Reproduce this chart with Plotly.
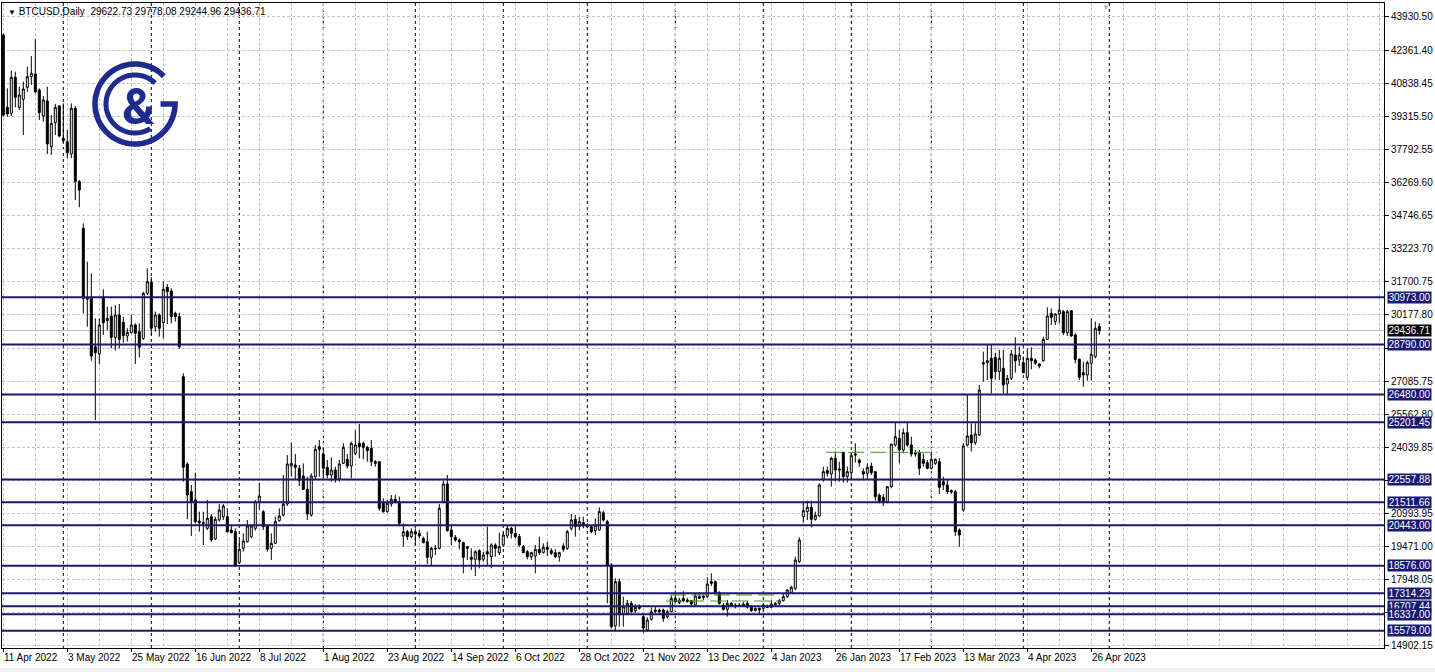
import numpy as np
import plotly.graph_objects as go

# ---------------- data ----------------
opens = [
    43083, 39744, 39467, 41129, 39744, 40113, 40667, 41160, 41283, 40544,
    39344, 40036, 37928, 39036, 39805, 38313, 38158, 37589, 39698, 36312,
    34157, 30880, 30925, 28694, 28355, 30971, 29894, 30110, 29124, 30156,
    29817, 29186, 29340, 29694, 29386, 29078, 31156, 31664, 29617, 30156,
    29802, 31433, 31264, 30233, 30079, 27308, 23277, 21999, 21614, 20645,
    20568, 20306, 20845, 19814, 20691, 20845, 20845, 20229, 20152, 18721,
    19383, 19691, 19921, 20306, 21537, 21075, 20414, 19383, 19614, 20660,
    20922, 21429, 23184, 23230, 23076, 22722, 22107, 20922, 22691, 24077,
    23738, 23122, 22768, 23000, 22600, 23307, 23492, 23184, 23769, 24231,
    24231, 24046, 24000, 23384, 23384, 21460, 21075, 21429, 21645, 21537,
    19952, 20152, 19921, 20152, 20075, 19844, 19691, 18967, 19352, 19383,
    21537, 22353, 20229, 19890, 19767, 19644, 19460, 18967, 18875, 19275,
    18875, 19229, 18998, 19537, 19183, 19537, 19952, 20306, 20075, 19921,
    19460, 19229, 18998, 19029, 19337, 19183, 19429, 19275, 19183, 18998,
    19490, 19383, 20306, 20722, 20383, 20568, 20383, 20383, 20198, 20229,
    21029, 20613, 18613, 15800, 17843, 16381, 16381, 16843, 16504, 16689,
    16227, 15612, 16104, 16458, 16535, 16535, 16227, 16458, 17073, 16874,
    17073, 16997, 16966, 16766, 17150, 17181, 17150, 17843, 17843, 17335,
    16766, 16566, 16843, 16689, 16766, 16720, 16843, 16689, 16504, 16612,
    16612, 16720, 16658, 16766, 16843, 16966, 17150, 17335, 17535, 18767,
    20845, 21076, 21276, 20722, 20876, 22568, 22969, 22815, 23538, 23046,
    23815, 22692, 22876, 23738, 23461, 22923, 22846, 23184, 22923, 21845,
    21737, 21538, 22230, 24154, 24462, 23923, 24723, 24154, 23800, 23800,
    23492, 23338, 23077, 23307, 23384, 22461, 22307, 22045, 22000, 20229,
    21153, 24154, 24615, 24261, 24615, 27955, 27955, 28155, 28201, 27540,
    27693, 26970, 27232, 28309, 28078, 27955, 27278, 28155, 28078, 27893,
    28047, 29032, 30233, 29848, 30202, 30310, 29340, 30356, 29232, 28109,
    27493, 27386, 27924, 28232, 29622.73,
]
highs = [
    43160, 40621, 41437, 41391, 40698, 40929, 41621, 42114, 42883, 40621,
    40267, 40698, 39390, 39898, 39851, 39929, 38697, 39929, 39805, 36389,
    34388, 32618, 32079, 30002, 30002, 31341, 30540, 30540, 30617, 30664,
    30079, 29540, 30156, 29771, 29771, 31233, 32310, 31895, 30310, 30233,
    31694, 31587, 31387, 30310, 30263, 27462, 23350, 22307, 22876, 21075,
    21075, 21614, 20968, 20845, 21429, 21429, 21230, 20460, 20306, 19767,
    20075, 20691, 20460, 21614, 22414, 21153, 20460, 20075, 20845, 21230,
    22768, 23692, 24261, 23738, 23230, 23307, 22691, 22845, 24154, 24384,
    24046, 23461, 23584, 23153, 23461, 24231, 23738, 24307, 24846, 25123,
    24307, 24107, 24384, 23461, 23384, 21691, 21614, 21845, 21845, 21768,
    20537, 20229, 20306, 20306, 20229, 19921, 20152, 19460, 19537, 21429,
    22507, 22768, 20414, 19998, 19844, 19691, 19491, 19383, 19306, 19337,
    19229, 20383, 19614, 19614, 20106, 20152, 20460, 20383, 20460, 20044,
    19537, 19306, 19229, 19537, 19921, 19614, 19691, 19383, 19337, 19229,
    19614, 20229, 20968, 20922, 20845, 20845, 20537, 20460, 20768, 21276,
    21122, 20700, 18700, 18000, 17997, 17150, 17000, 16950, 16800, 16800,
    16400, 16200, 16650, 16700, 16600, 16600, 16550, 17200, 17250, 17100,
    17400, 17100, 17000, 17300, 17350, 17250, 18043, 18230, 17900, 17400,
    16850, 17000, 16900, 16850, 16850, 16900, 16950, 16750, 16650, 16650,
    16800, 16780, 16990, 16900, 17050, 17300, 17500, 17650, 19000, 19890,
    21538, 21584, 21584, 21076, 22384, 23153, 23153, 23615, 23846, 23384,
    23815, 23153, 23769, 24231, 23538, 23077, 23307, 23338, 22923, 21922,
    21891, 22261, 24200, 25185, 24846, 24923, 25231, 24539, 23923, 23923,
    23769, 23461, 23846, 23538, 23538, 22692, 22538, 22100, 22076, 20306,
    24231, 26462, 25154, 25154, 26924, 28463, 28771, 28817, 28417, 28540,
    28540, 27386, 28540, 29125, 28694, 28232, 28617, 28663, 28155, 27924,
    29155, 30510, 30464, 30233, 31002, 30387, 30387, 30387, 29309, 28155,
    28001, 28047, 30002, 29848, 29778.08,
]
lows = [
    39313, 39313, 39344, 39744, 39621, 38466, 40467, 40775, 40390, 39159,
    39082, 37589, 37543, 38466, 38359, 38112, 37389, 37389, 35465, 35127,
    30233, 29617, 28047, 25300, 27893, 29232, 29463, 28617, 28509, 28617,
    28878, 28925, 29309, 27893, 28201, 29002, 31079, 29232, 29386, 29155,
    29078, 29740, 29771, 29848, 28600, 22461, 20722, 19952, 20537, 20152,
    19537, 20229, 19691, 19767, 20614, 20691, 20106, 20075, 18536, 18659,
    19229, 19644, 19844, 20198, 21153, 20229, 19229, 18844, 19583, 20614,
    20845, 21337, 22691, 22538, 22260, 22076, 20691, 20845, 22568, 22691,
    22615, 22615, 22461, 22414, 22461, 23277, 23076, 22615, 23692, 23538,
    23492, 23384, 23184, 23153, 21122, 21029, 21029, 21306, 21460, 20460,
    19460, 19767, 19844, 19537, 19844, 19614, 18659, 18613, 19075, 19337,
    21460, 20152, 19537, 19691, 19337, 18228, 18844, 18382, 18105, 18459,
    18767, 18613, 18459, 18998, 19075, 19460, 19844, 19844, 19844, 19460,
    19152, 18875, 18844, 18228, 19075, 19152, 19029, 19075, 18921, 18767,
    19229, 19306, 20198, 19921, 20229, 20306, 20306, 20075, 19998, 20198,
    20614, 16843, 15688, 15600, 15765, 15765, 16300, 16381, 16400, 16550,
    15480, 15534, 16050, 16400, 16350, 15990, 16150, 16420, 16850, 16800,
    16900, 16880, 16700, 16730, 17050, 17000, 17100, 17650, 17250, 16780,
    16500, 16227, 16700, 16600, 16680, 16700, 16600, 16450, 16470, 16330,
    16550, 16620, 16630, 16720, 16700, 16930, 17100, 17300, 17450, 18700,
    20568, 20691, 20352, 20660, 20845, 22461, 22692, 22230, 22461, 22461,
    22415, 22415, 22538, 23338, 23153, 22538, 22568, 22769, 21584, 21460,
    21337, 21460, 22153, 24077, 23307, 23769, 24077, 23615, 23615, 22769,
    23153, 23030, 23030, 23230, 21891, 22076, 21891, 21900, 19952, 19460,
    21076, 24077, 23846, 24154, 24569, 27078, 27155, 26539, 27186, 27155,
    26539, 26508, 27155, 27493, 27801, 27463, 27155, 27647, 27847, 27693,
    28001, 29002, 29694, 29694, 29771, 29232, 29186, 29155, 27924, 27155,
    26847, 27124, 27124, 28155, 29244.96,
]
closes = [
    39390, 39436, 41129, 40206, 40313, 40590, 41160, 41314, 40467, 39498,
    40082, 38051, 39005, 39744, 38420, 38205, 37651, 39698, 36312, 35927,
    30925, 30950, 28263, 28417, 29694, 29802, 30002, 29124, 30156, 29032,
    29201, 29355, 29694, 29309, 28663, 31156, 31694, 29540, 30156, 29540,
    31341, 31233, 30079, 30079, 28694, 23122, 21845, 21491, 20614, 20568,
    20537, 20768, 19767, 20722, 21153, 21337, 20152, 20106, 18567, 19337,
    19721, 20414, 20414, 21537, 21799, 20383, 19337, 19614, 20614, 20875,
    21429, 23277, 23307, 23122, 22507, 22107, 20968, 22722, 23953, 23953,
    23076, 22768, 23000, 22600, 23277, 24046, 23184, 24231, 24154, 24077,
    24046, 23892, 23384, 23307, 21230, 21075, 21460, 21645, 21537, 20537,
    20152, 19921, 20152, 20044, 19952, 19644, 18967, 19383, 19383, 21230,
    22353, 20198, 19921, 19767, 19691, 18967, 19383, 18875, 19229, 18844,
    19075, 19121, 19537, 19383, 19460, 19998, 20306, 20075, 19921, 19537,
    19183, 18998, 19183, 19337, 19183, 19429, 19337, 19152, 18998, 19183,
    19337, 20152, 20691, 20383, 20614, 20414, 20460, 20152, 20460, 21075,
    20691, 18613, 15765, 17843, 16381, 16689, 16843, 16458, 16658, 16612,
    15700, 16073, 16458, 16535, 16458, 16150, 16458, 17073, 16920, 16997,
    16966, 16920, 16812, 17181, 17073, 17120, 17735, 17766, 17335, 16843,
    16566, 16843, 16720, 16766, 16720, 16812, 16658, 16504, 16612, 16535,
    16766, 16658, 16812, 16843, 16966, 17150, 17458, 17581, 18843, 19767,
    21122, 21276, 20722, 20906, 22307, 22923, 22846, 23538, 23000, 23000,
    22692, 22923, 23661, 23692, 23338, 22815, 23123, 22876, 21768, 21538,
    21491, 22230, 24200, 24539, 23923, 24723, 24154, 23738, 23738, 23077,
    23307, 23077, 23492, 23492, 22199, 22307, 22000, 21984, 20152, 19998,
    24107, 24569, 24261, 24662, 26693, 27893, 28047, 27232, 27540, 28155,
    26924, 27232, 28355, 28047, 28309, 27493, 28155, 28047, 27924, 27801,
    29032, 30110, 30048, 30202, 30387, 29340, 30310, 29186, 28109, 27278,
    27386, 27955, 28340, 29540, 29436.71,
]

# price grid; the three hidden values sit under the level labels in the reference
price_ticks = [43930.50, 42361.40, 40838.45, 39315.50, 37792.55, 36269.60,
               34746.65, 33223.70, 31700.75, 30177.80, 28631.75, 27085.75,
               25562.80, 24039.85, 22516.90, 20993.95, 19471.00, 17948.05,
               16425.10, 14902.15]
hidden_ticks = [28631.75, 22516.90, 16425.10]
levels = [30973.00, 28790.00, 26480.00, 25201.45, 22557.88, 21511.66,
          20443.00, 18576.00, 17314.29, 16707.44, 16337.00, 15579.00]
current_price = 29436.71

date_labels = ["11 Apr 2022", "3 May 2022", "25 May 2022", "16 Jun 2022",
               "8 Jul 2022", "1 Aug 2022", "23 Aug 2022", "14 Sep 2022",
               "6 Oct 2022", "28 Oct 2022", "21 Nov 2022", "13 Dec 2022",
               "4 Jan 2023", "26 Jan 2023", "17 Feb 2023", "13 Mar 2023",
               "4 Apr 2023", "26 Apr 2023"]
date_label_bars = [16 * k for k in range(len(date_labels))]
month_start_bars = [15, 37, 59, 80, 103, 125, 146, 168, 190, 212, 232, 255, 276.5]

green_prices = [23816, 17228, 16951]
green_start = [205.7, 166.7, 165.7]
green_end = [233.5, 194.2, 194.2]

title_text = "BTCUSD,Daily  29622.73 29778.08 29244.96 29436.71"

# ---------------- styling ----------------
NAVY = "#191970"
LOGO = "#1f2b91"
GRID = "#c4c4c4"
FONT = "Liberation Sans"
W, H = 1435, 672
ML, MR, MT, MB = 2, 51, 3, 24
PW, PH = W - ML - MR, H - MT - MB

bars = list(range(len(opens)))

fig = go.Figure()
fig.add_trace(go.Candlestick(
    x=bars, open=opens, high=highs, low=lows, close=closes,
    increasing=dict(line=dict(color="black", width=1), fillcolor="white"),
    decreasing=dict(line=dict(color="black", width=1), fillcolor="black"),
    whiskerwidth=0, hoverinfo="skip", showlegend=False,
))

shapes = []
for b in month_start_bars:
    shapes.append(dict(type="line", xref="x", yref="paper", x0=b, x1=b, y0=0, y1=1,
                       line=dict(color="black", width=1, dash="3px,3px"), layer="between"))
shapes.append(dict(type="line", xref="paper", yref="y", x0=0, x1=1,
                   y0=current_price, y1=current_price,
                   line=dict(color="#b8b8b8", width=1), layer="between"))
for p, a, b in zip(green_prices, green_start, green_end):
    shapes.append(dict(type="line", xref="x", yref="y", x0=a, x1=b, y0=p, y1=p,
                       line=dict(color="#3c9a1c", width=1, dash="16px,6px"), layer="above"))
for lv in levels:
    shapes.append(dict(type="line", xref="paper", yref="y", x0=0, x1=1, y0=lv, y1=lv,
                       line=dict(color=NAVY, width=2), layer="above"))

def arc_path(r, a0, a1, extra=None, n=90):
    t = np.radians(np.linspace(a0, a1, n))
    pts = [(r * np.cos(a), r * np.sin(a)) for a in t]
    if extra:
        pts += extra
    return "M " + " L ".join(f"{x:.2f},{y:.2f}" for x, y in pts)

cx_px, cy_px = 135.0, 104.0
ax_paper = (cx_px - ML) / PW
ay_paper = 1 - (cy_px - MT) / PH
for path, lw in [(arc_path(40, 44, 360, extra=[(25.5, 0.0)]), 5.6),
                 (arc_path(29, 46, 302), 5.0)]:
    shapes.append(dict(type="path", path=path, xref="paper", yref="paper",
                       xsizemode="pixel", ysizemode="pixel",
                       xanchor=ax_paper, yanchor=ay_paper,
                       line=dict(color=LOGO, width=lw), fillcolor="rgba(0,0,0,0)",
                       layer="above"))
shapes.append(dict(type="rect", xref="paper", yref="paper", x0=-0.01, x1=1.05,
                   y0=-(668 - MT - PH) / PH, y1=-(H - MT - PH) / PH - 0.01,
                   fillcolor="#f0f0f0", line=dict(width=0), layer="below"))

annotations = []
for lv in levels:
    annotations.append(dict(xref="paper", yref="y", x=1, y=lv, xanchor="left",
                            yanchor="middle", xshift=3, text=f"{lv:.2f}",
                            showarrow=False, bgcolor=NAVY, borderpad=0,
                            width=43, height=11,
                            font=dict(family=FONT, size=10, color="white")))
annotations.append(dict(xref="paper", yref="y", x=1, y=current_price, xanchor="left",
                        yanchor="middle", xshift=3, text=f"{current_price:.2f}",
                        showarrow=False, bgcolor="black", borderpad=0, width=43, height=11,
                        font=dict(family=FONT, size=10, color="white")))
for b, lab in zip(date_label_bars, date_labels):
    annotations.append(dict(xref="x", yref="paper", x=b, y=0, xanchor="left",
                            yanchor="top", xshift=-1, yshift=-2, text=lab,
                            showarrow=False, font=dict(family=FONT, size=10, color="black")))
annotations.append(dict(xref="paper", yref="paper", x=0, y=1, xanchor="left", yanchor="top",
                        xshift=4, yshift=-1,
                        text="<span style='font-size:8px'>▼</span> " + title_text,
                        showarrow=False, font=dict(family=FONT, size=10, color="black")))
annotations.append(dict(xref="paper", yref="paper", x=(138 - ML) / PW, y=1 - (107 - MT) / PH,
                        xanchor="center", yanchor="middle", text="<b>&amp;</b>",
                        showarrow=False, font=dict(family="Roboto", size=50, color=LOGO)))
annotations.append(dict(xref="paper", yref="paper", x=(1106 - ML) / PW, y=1, xanchor="center",
                        yanchor="top", yshift=2, text="▼", showarrow=False,
                        font=dict(family=FONT, size=8, color="#b0b0b0")))

x_lo = (ML - 3.3) / 4.0
x_hi = (W - MR - 3.3) / 4.0
p_per_px = 46.17
p_top = 44699 - p_per_px * MT
p_bot = 44699 - p_per_px * (H - MB)

tick_text = ["" if v in hidden_ticks else f"{v:.2f}" for v in price_ticks]

fig.update_layout(
    width=W, height=H, margin=dict(l=ML, r=MR, t=MT, b=MB, pad=0),
    paper_bgcolor="white", plot_bgcolor="white", showlegend=False,
    boxgap=0.5, boxgroupgap=0,
    shapes=shapes, annotations=annotations, hovermode=False,
    xaxis=dict(range=[x_lo, x_hi], rangeslider=dict(visible=False),
               tickmode="array", tickvals=date_label_bars, showticklabels=False,
               ticks="outside", ticklen=3, tickcolor="black",
               showgrid=True, gridcolor=GRID, griddash="3px,2px", gridwidth=1,
               minor=dict(tickmode="linear", tick0=0, dtick=8, showgrid=True,
                          gridcolor=GRID, griddash="3px,2px", gridwidth=1, ticks=""),
               zeroline=False, showline=True, linecolor="black", linewidth=1, mirror=True,
               fixedrange=True),
    yaxis=dict(range=[p_bot, p_top], side="right", tickmode="array",
               tickvals=price_ticks, ticktext=tick_text,
               ticks="outside", ticklen=4, tickcolor="black",
               tickfont=dict(family=FONT, size=10, color="black"),
               showgrid=True, gridcolor=GRID, griddash="3px,2px", gridwidth=1,
               zeroline=False, showline=True, linecolor="black", linewidth=1, mirror=True,
               fixedrange=True),
)

fig.write_html("out.html", config={"displayModeBar": False, "staticPlot": True},
               post_script="document.body.style.margin='0';document.body.style.overflow='hidden';")
